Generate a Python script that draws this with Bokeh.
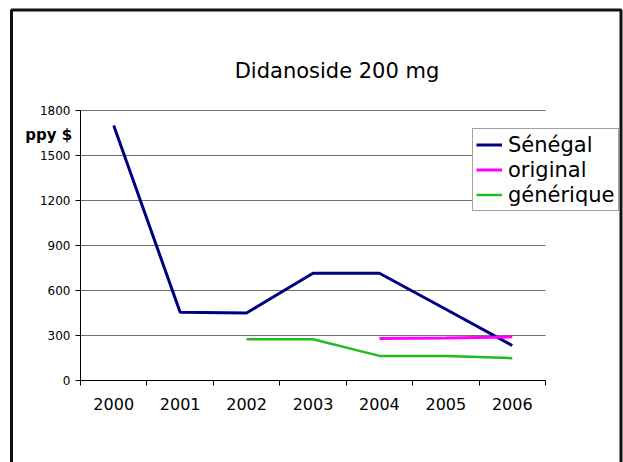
import numpy as np
from bokeh.plotting import figure
from bokeh.models import (ColumnDataSource, Range1d, FixedTicker, Label, Legend,
                          LegendItem, BoxAnnotation)
from bokeh.embed import file_html
from bokeh.resources import INLINE

# ---- data ----
years = ["2000", "2001", "2002", "2003", "2004", "2005", "2006"]
senegal = [1700, 455, 450, 715, 715, 475, 233]
original = [None, None, None, None, 280, 284, 291]
generique = [None, None, 275, 275, 164, 164, 149]
y_ticks = [0, 300, 600, 900, 1200, 1500, 1800]
title_text = "Didanoside 200 mg"
y_label = "ppy $"


def arr(v):
    return [np.nan if a is None else a for a in v]


xs = [i + 0.5 for i in range(len(years))]
src = ColumnDataSource(dict(x=xs, senegal=arr(senegal), original=arr(original),
                            generique=arr(generique)))

FONT = "DejaVu Sans"
W, H = 623, 462
# page-pixel geometry of the plot area (layout only)
PX0, PX1, PY0, PY1 = 80, 545, 380, 110
ncat = len(years)
ymax = y_ticks[-1]
ux = (PX1 - PX0) / ncat          # px per category
uy = (PY0 - PY1) / ymax          # px per unit value


def dx(px):
    return (px - PX0) / ux


def dy(py):
    return (PY0 - py) / uy


p = figure(width=W, height=H, output_backend="svg", toolbar_location=None,
           title_location=None,
           x_range=Range1d(dx(0), dx(W)), y_range=Range1d(dy(H), dy(0)),
           min_border_left=0, min_border_right=0, min_border_top=0,
           min_border_bottom=0)
p.outline_line_color = None
p.background_fill_color = "white"
p.border_fill_color = "white"

# outer chart border (open at the bottom, as in the reference)
p.add_layout(BoxAnnotation(left=dx(11), right=dx(620.5), top=dy(9.5), bottom=dy(H + 40),
                           fill_alpha=0, line_color="#111111", line_alpha=1.0,
                           line_width=3))

# x axis: labels at band centres, ticks at band boundaries
xa = p.xaxis[0]
xa.fixed_location = 0
xa.bounds = (0, ncat)
xa.ticker = FixedTicker(ticks=xs, minor_ticks=list(range(ncat + 1)))
xa.major_label_overrides = {xv: yr for xv, yr in zip(xs, years)}
xa.major_tick_out = 0
xa.major_tick_in = 0
xa.minor_tick_out = 5
xa.minor_tick_in = 0
xa.minor_tick_line_color = "black"
xa.axis_line_color = "black"
xa.major_label_text_font = FONT
xa.major_label_text_font_size = "16px"
xa.major_label_text_color = "black"
xa.major_label_standoff = 12

ya = p.yaxis[0]
ya.fixed_location = 0
ya.bounds = (0, ymax)
ya.ticker = FixedTicker(ticks=y_ticks)
ya.major_tick_out = 5
ya.major_tick_in = 0
ya.minor_tick_out = 0
ya.minor_tick_in = 0
ya.axis_line_color = "black"
ya.major_tick_line_color = "black"
ya.major_label_text_font = FONT
ya.major_label_text_font_size = "12px"
ya.major_label_text_color = "black"
ya.major_label_standoff = 5

p.xgrid.visible = False
p.ygrid.ticker = FixedTicker(ticks=y_ticks)
p.ygrid.bounds = (0, ymax)
p.ygrid.cross_bounds = (0, ncat)
p.ygrid.grid_line_color = "#6e6e6e"
p.ygrid.grid_line_width = 1

# series
r1 = p.line("x", "senegal", source=src, line_color="#000080", line_width=3)
r2 = p.line("x", "original", source=src, line_color="#ff00ff", line_width=3)
r3 = p.line("x", "generique", source=src, line_color="#22bb22", line_width=2.5)

legend = Legend(items=[LegendItem(label="Sénégal", renderers=[r1]),
                       LegendItem(label="original", renderers=[r2]),
                       LegendItem(label="générique", renderers=[r3])],
                location=(472, H - 211))
legend.label_text_font = FONT
legend.label_text_font_size = "21px"
legend.label_text_color = "black"
legend.padding = 3
legend.spacing = 0
legend.glyph_width = 26
legend.glyph_height = 25
legend.label_height = 25
legend.label_standoff = 6
legend.border_line_color = "#444444"
legend.border_line_width = 1
legend.background_fill_color = "white"
legend.background_fill_alpha = 1
p.add_layout(legend, "center")

# title and y-unit label
p.add_layout(Label(x=dx(336.5), y=dy(70), text=title_text, text_font=FONT,
                   text_font_size="21px", text_align="center",
                   text_baseline="middle", text_color="black"))
p.add_layout(Label(x=dx(48.3), y=dy(134), text=y_label, text_font=FONT,
                   text_font_size="15px", text_font_style="bold",
                   text_align="center", text_baseline="middle", text_color="black"))

open("out.html", "w").write(file_html(p, INLINE))
